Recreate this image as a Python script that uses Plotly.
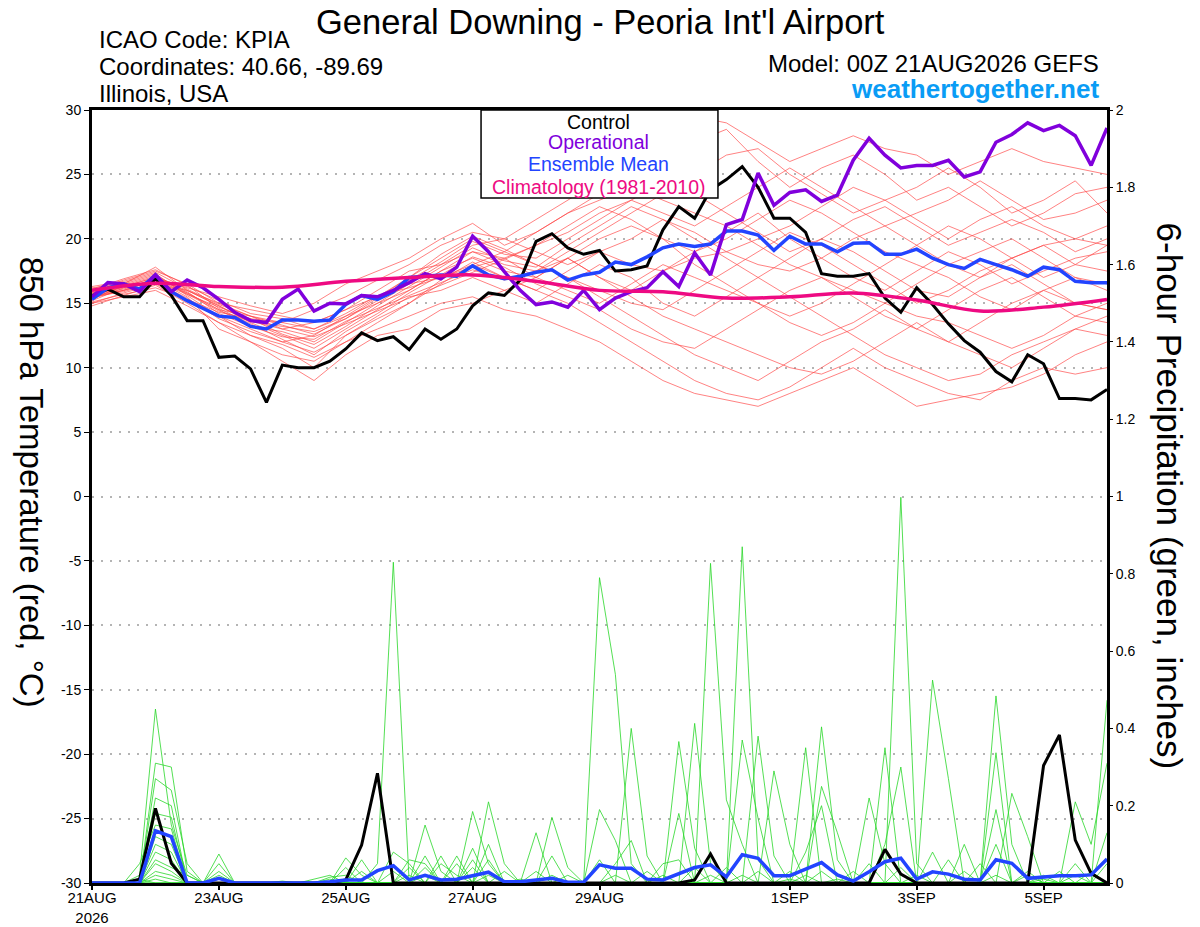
import plotly.graph_objects as go
from datetime import datetime, timedelta

# ---- data ----
base_time = datetime(2026, 8, 21, 0)
hours_6h = list(range(0, 385, 6))      # control / mean / operational / precip
hours_12h = list(range(0, 385, 12))    # temperature members
hours_24h = list(range(0, 385, 24))    # climatology

control_temp = [
    15.6, 16.1, 15.5, 15.5, 16.9, 15.6, 13.65, 13.65,
    10.8, 10.9, 9.9, 7.3, 10.2, 10.0, 10.0, 10.5,
    11.45, 12.7, 12.1, 12.4, 11.4, 13.0, 12.2, 13.0,
    14.8, 15.8, 15.6, 16.8, 19.8, 20.4, 19.3, 18.8,
    19.1, 17.5, 17.6, 17.9, 20.7, 22.5, 21.6, 23.8,
    24.6, 25.6, 24.0, 21.6, 21.6, 20.5, 17.3, 17.1,
    17.1, 17.3, 15.4, 14.3, 16.2, 14.9, 13.4, 12.1,
    11.2, 9.7, 8.9, 11.0, 10.3, 7.6, 7.6, 7.5,
    8.3,
]
mean_temp = [
    15.3, 16.2, 16.5, 16.1, 17.2, 15.9, 15.2, 14.6,
    14.0, 13.9, 13.2, 13.0, 13.7, 13.7, 13.6, 13.7,
    14.9, 15.6, 15.3, 15.9, 17.0, 17.1, 17.2, 17.1,
    17.9, 17.2, 16.9, 17.1, 17.4, 17.6, 16.8, 17.2,
    17.4, 18.2, 18.0, 18.6, 19.3, 19.6, 19.4, 19.6,
    20.6, 20.6, 20.3, 19.1, 20.2, 19.6, 19.6, 19.0,
    19.65, 19.7, 18.8, 18.8, 19.2, 18.5, 18.0, 17.7,
    18.4, 18.0, 17.6, 17.1, 17.8, 17.6, 16.7, 16.6,
    16.6,
]
oper_temp = [
    15.5, 16.6, 16.5, 15.9, 17.2, 15.9, 16.8, 16.2,
    15.3, 14.3, 13.65, 13.5, 15.3, 16.1, 14.4, 15.0,
    14.95, 15.6, 15.5, 16.0, 16.6, 17.3, 16.9, 17.8,
    20.2, 19.0, 17.45, 16.0, 14.9, 15.1, 14.7, 16.0,
    14.5, 15.4, 15.9, 16.2, 17.45, 16.3, 18.9, 17.2,
    21.1, 21.5, 25.1, 22.6, 23.6, 23.8, 22.9, 23.4,
    26.1, 27.8, 26.5, 25.5, 25.7, 25.7, 26.1, 24.8,
    25.2, 27.5, 28.1, 29.0, 28.4, 28.8, 28.0, 25.7,
    28.6,
]
clim_temp = [16.0, 16.55, 16.3, 16.25, 16.7, 17.0, 17.2, 16.7, 16.0,
             15.9, 15.4, 15.5, 15.8, 15.25, 14.4, 14.7, 15.3]

member_temps = [
    [15.8, 16.5, 17.2, 15.8, 14.5, 14.0, 13.5, 14.5, 15.5, 16.8, 18.0,
     19.5, 20.5, 20.0, 21.5, 23.0, 24.5, 26.0, 28.0, 29.5, 29.0, 27.5,
     26.0, 27.0, 28.0, 27.0, 26.5, 25.0, 26.0, 27.0, 26.0, 25.5, 25.0],
    [15.5, 16.0, 17.0, 16.2, 15.5, 14.8, 14.2, 15.0, 16.5, 17.5, 18.5,
     20.0, 21.2, 19.5, 20.5, 22.0, 23.5, 25.0, 26.5, 27.5, 28.5, 26.0,
     24.0, 25.5, 26.5, 25.0, 23.0, 24.0, 22.5, 21.0, 22.0, 23.5, 24.0],
    [15.0, 15.5, 16.0, 14.8, 13.5, 12.0, 11.0, 10.5, 12.0, 13.0, 14.0,
     15.0, 15.5, 14.5, 14.0, 13.0, 12.0, 10.5, 9.0, 8.0, 7.5, 7.0,
     8.0, 9.0, 10.0, 8.5, 7.0, 7.5, 8.0, 8.5, 9.5, 11.0, 12.0],
    [16.0, 16.8, 17.5, 16.5, 15.0, 14.0, 13.0, 13.5, 14.5, 15.5, 16.5,
     17.0, 18.0, 17.0, 16.0, 15.0, 13.5, 12.0, 10.5, 9.0, 8.0, 7.5,
     8.5, 10.0, 11.5, 10.0, 9.0, 8.0, 7.5, 9.0, 10.0, 9.5, 10.0],
    [15.2, 16.2, 16.8, 15.5, 13.0, 12.0, 10.5, 9.0, 11.0, 12.5, 13.0,
     14.5, 15.0, 16.0, 17.0, 18.5, 17.0, 15.5, 14.0, 13.0, 12.0, 11.0,
     10.0, 9.5, 10.5, 12.0, 13.5, 12.0, 11.0, 10.0, 11.5, 13.0, 14.0],
    [16.2, 16.5, 17.8, 16.0, 14.8, 13.5, 12.5, 11.5, 13.0, 14.5, 16.0,
     17.5, 19.0, 18.0, 17.5, 19.0, 20.5, 22.0, 23.5, 25.0, 26.5, 27.0,
     25.0, 23.5, 22.0, 23.0, 21.5, 20.0, 21.5, 22.5, 21.0, 20.0, 21.0],
    [15.0, 15.8, 16.5, 15.2, 14.0, 13.0, 12.0, 12.5, 14.0, 15.5, 17.0,
     18.5, 20.0, 19.0, 18.0, 17.0, 15.5, 14.0, 12.5, 11.0, 10.0, 9.0,
     10.5, 12.0, 13.0, 14.5, 13.0, 12.0, 13.5, 15.0, 16.0, 15.0, 14.5],
    [15.6, 16.0, 16.5, 16.0, 15.0, 14.5, 14.0, 13.5, 14.5, 16.0, 17.5,
     18.0, 19.0, 18.5, 19.5, 20.5, 22.0, 23.0, 22.0, 21.0, 22.5, 24.0,
     25.5, 24.0, 22.5, 21.0, 22.0, 23.0, 24.5, 23.0, 21.5, 22.0, 23.0],
    [15.4, 16.3, 17.0, 15.9, 14.2, 13.2, 12.8, 12.0, 13.5, 15.0, 16.5,
     18.0, 19.5, 20.0, 19.0, 18.0, 19.0, 20.0, 21.5, 20.5, 19.0, 18.0,
     17.5, 18.5, 20.0, 21.0, 19.5, 18.0, 17.0, 18.5, 19.5, 20.0, 19.5],
    [15.9, 16.6, 17.3, 15.6, 14.0, 12.5, 11.5, 10.0, 12.5, 14.0, 15.5,
     16.0, 17.0, 16.0, 15.0, 16.5, 18.0, 17.0, 15.0, 14.0, 15.5, 17.0,
     18.5, 20.0, 19.0, 17.5, 16.0, 15.5, 17.0, 18.0, 16.5, 15.0, 14.5],
    [15.7, 16.1, 16.9, 16.3, 15.2, 14.2, 13.8, 13.0, 14.0, 15.0, 16.0,
     17.5, 18.5, 17.5, 17.0, 18.5, 20.0, 21.0, 20.0, 19.0, 20.5, 22.0,
     20.0, 18.5, 17.0, 16.0, 17.5, 19.0, 18.0, 16.5, 17.5, 18.5, 19.0],
    [15.3, 16.4, 17.1, 15.7, 14.4, 13.6, 13.2, 12.8, 13.8, 15.2, 16.8,
     18.2, 19.8, 18.8, 18.5, 20.0, 21.5, 23.0, 24.5, 23.5, 22.0, 20.5,
     19.0, 20.0, 21.5, 22.5, 21.0, 19.5, 20.5, 21.5, 20.5, 19.0, 20.0],
    [16.1, 16.9, 17.6, 16.4, 14.6, 13.4, 12.2, 11.0, 12.8, 14.2, 15.8,
     17.2, 18.6, 17.8, 16.5, 15.5, 14.5, 13.0, 12.0, 11.5, 13.0, 14.5,
     16.0, 17.0, 15.5, 14.0, 13.0, 14.5, 16.0, 17.0, 15.5, 14.0, 13.5],
    [15.5, 15.9, 16.6, 15.4, 13.8, 12.8, 12.0, 11.2, 12.5, 13.8, 15.0,
     16.5, 18.0, 19.0, 20.5, 22.0, 23.0, 24.0, 23.0, 22.0, 21.0, 19.5,
     18.0, 17.0, 16.0, 15.0, 14.0, 13.5, 12.5, 11.5, 12.5, 14.0, 15.0],
    [14.8, 15.6, 16.4, 15.0, 13.5, 12.5, 11.8, 10.8, 12.0, 13.5, 15.0,
     16.8, 18.2, 17.0, 16.0, 17.5, 19.0, 18.0, 17.5, 19.0, 20.0, 21.5,
     23.0, 22.0, 20.5, 19.0, 18.0, 17.0, 15.5, 14.5, 16.0, 17.0, 16.0],
    [16.3, 16.7, 17.4, 16.1, 14.9, 14.0, 13.3, 12.6, 13.8, 15.4, 17.0,
     18.8, 20.2, 19.2, 18.0, 17.0, 16.0, 15.0, 14.5, 16.0, 17.5, 19.0,
     20.5, 19.5, 18.0, 16.5, 15.0, 16.0, 17.5, 18.5, 19.5, 18.0, 17.5],
    [15.1, 15.7, 16.2, 15.3, 14.3, 13.8, 13.5, 13.0, 14.2, 15.6, 16.2,
     17.0, 17.8, 18.5, 17.0, 16.0, 15.0, 16.5, 18.0, 17.0, 16.0, 15.0,
     13.5, 12.5, 13.5, 15.0, 16.5, 18.0, 19.0, 20.0, 18.5, 17.0, 16.5],
    [15.8, 16.2, 16.7, 15.7, 14.7, 13.8, 12.6, 11.8, 13.2, 14.8, 16.3,
     17.8, 19.3, 18.3, 17.8, 19.5, 21.0, 22.5, 21.5, 20.0, 18.5, 17.0,
     15.5, 14.0, 12.5, 11.0, 10.0, 9.0, 9.5, 11.0, 12.0, 13.0, 12.5],
    [15.4, 16.0, 16.8, 15.8, 14.5, 13.2, 12.4, 12.2, 13.6, 14.6, 15.6,
     16.6, 17.6, 16.8, 17.5, 18.5, 17.0, 16.0, 17.5, 18.5, 19.0, 20.0,
     21.0, 22.5, 24.0, 23.0, 24.0, 25.5, 24.0, 22.0, 23.0, 24.5, 22.0],
    [15.6, 16.3, 17.0, 16.0, 14.8, 13.6, 13.0, 12.4, 13.4, 14.4, 15.4,
     16.4, 17.4, 18.4, 19.5, 21.0, 22.5, 21.5, 20.0, 18.0, 16.5, 15.0,
     14.0, 15.0, 16.5, 18.0, 19.5, 21.0, 20.0, 18.5, 17.0, 18.0, 19.5],
]

control_precip = [
    0, 0, 0, 0.01, 0.193, 0.051, 0, 0,
    0, 0, 0, 0, 0, 0, 0, 0,
    0.008, 0.098, 0.284, 0, 0, 0, 0, 0,
    0, 0, 0, 0, 0, 0, 0, 0,
    0, 0, 0, 0, 0, 0, 0.008, 0.075,
    0, 0, 0, 0, 0, 0, 0, 0,
    0, 0, 0.087, 0.023, 0, 0, 0, 0,
    0, 0, 0, 0, 0.304, 0.383, 0.111, 0.025,
    0,
]
mean_precip = [
    0, 0, 0, 0, 0.135, 0.12, 0, 0,
    0.012, 0, 0, 0, 0, 0, 0, 0.003,
    0.008, 0.008, 0.032, 0.045, 0.008, 0.02, 0.008, 0.01,
    0.02, 0.028, 0.003, 0.003, 0.008, 0.012, 0.002, 0.002,
    0.047, 0.038, 0.038, 0.01, 0.008, 0.025, 0.04, 0.047,
    0.016, 0.073, 0.064, 0.019, 0.019, 0.036, 0.053, 0.021,
    0.005, 0.029, 0.055, 0.064, 0.01, 0.029, 0.023, 0.01,
    0.008, 0.06, 0.051, 0.012, 0.016, 0.019, 0.019, 0.021,
    0.062,
]

member_precip = [
    [0, 0, 0, .02, .45, .15, .02, 0,
     0, 0, 0, 0, 0, 0, 0, 0,
     0, 0, 0, 0, 0, .15, .03, 0,
     0, 0, 0, 0, 0, 0, 0, 0,
     .79, .54, .05, 0, 0, 0, 0, 0,
     0, 0, 0, 0, 0, .08, .2, 0,
     0, 0, 0, 0, 0, 0, 0, 0,
     0, .1, 0, 0, 0, 0, 0, 0,
     .13],
    [0, 0, 0, 0, .31, .3, .03, 0,
     .075, 0, 0, 0, 0, 0, 0, 0,
     0, 0, .05, .83, 0, 0, 0, 0,
     0, .06, 0, 0, 0, 0, 0, 0,
     0, 0, 0, 0, 0, 0, 0, .827,
     .215, .1, 0, 0, 0, 0, 0, 0,
     0, 0, .1, .3, 0, 0, 0, 0,
     0, 0, 0, 0, 0, 0, .05, 0,
     0],
    [0, 0, 0, 0, .27, .24, .05, 0,
     .05, 0, 0, 0, 0, 0, 0, 0,
     0, 0, 0, 0, 0, 0, 0, 0,
     .185, .05, 0, 0, 0, 0, 0, 0,
     0, 0, 0, 0, 0, 0, 0, 0,
     0, .87, .06, 0, 0, 0, 0, 0,
     0, 0, 0, 0, 0, .08, 0, 0,
     0, 0, 0, 0, 0, 0, 0, 0,
     .473],
    [0, 0, 0, 0, .22, .2, 0, 0,
     0, 0, 0, 0, 0, 0, 0, 0,
     .065, .02, 0, 0, 0, 0, 0, 0,
     0, .21, .05, 0, 0, 0, 0, 0,
     0, 0, 0, 0, 0, .366, .09, 0,
     0, 0, 0, 0, 0, 0, 0, 0,
     0, 0, 0, .998, .05, 0, 0, 0,
     0, 0, 0, .03, 0, 0, 0, 0,
     0],
    [0, 0, 0, 0, .18, .17, 0, 0,
     .03, 0, 0, 0, 0, 0, 0, 0,
     0, 0, 0, 0, 0, .07, 0, 0,
     0, 0, 0, 0, 0, .17, .04, 0,
     0, 0, .4, .07, 0, 0, 0, 0,
     0, 0, 0, 0, 0, 0, .404, .06,
     0, 0, 0, 0, 0, 0, 0, 0,
     0, .484, .1, 0, 0, 0, 0, 0,
     0],
    [0, 0, 0, .05, .15, .14, 0, 0,
     0, 0, 0, 0, 0, 0, 0, 0,
     0, .06, 0, 0, 0, 0, 0, 0,
     .09, 0, 0, 0, .13, 0, 0, 0,
     0, 0, 0, 0, 0, 0, .413, .05,
     0, 0, 0, 0, 0, 0, 0, 0,
     0, .22, .05, 0, 0, 0, 0, 0,
     0, 0, 0, 0, 0, 0, .21, .1,
     .31],
    [0, 0, 0, 0, .12, .1, 0, 0,
     0, 0, 0, 0, 0, 0, .01, .02,
     0, 0, 0, 0, .06, .05, 0, 0,
     0, 0, 0, 0, 0, 0, 0, 0,
     .19, .11, 0, 0, 0, 0, 0, 0,
     0, 0, .38, .07, 0, 0, 0, 0,
     0, 0, 0, 0, 0, .525, .27, 0,
     0, .19, 0, 0, 0, 0, 0, 0,
     0],
    [0, 0, 0, 0, .1, .08, 0, 0,
     0, 0, 0, 0, 0, 0, 0, 0,
     .04, 0, 0, .08, .05, 0, 0, .07,
     0, 0, 0, 0, 0, 0, 0, 0,
     0, .05, .11, 0, 0, 0, 0, 0,
     0, .37, .167, 0, 0, .35, 0, 0,
     0, 0, 0, 0, 0, 0, 0, .1,
     0, 0, .232, .12, 0, 0, 0, 0,
     0],
    [0, 0, 0, 0, .08, .06, 0, 0,
     .02, 0, 0, 0, 0, 0, 0, 0,
     0, 0, 0, 0, 0, 0, .07, 0,
     .06, 0, 0, 0, 0, .07, 0, 0,
     0, 0, 0, 0, 0, .18, 0, 0,
     0, 0, 0, .29, .1, 0, 0, 0,
     0, 0, .35, 0, 0, 0, 0, 0,
     0, .337, 0, 0, 0, 0, 0, 0,
     .05],
    [0, 0, 0, 0, .06, .04, .02, 0,
     0, 0, 0, 0, 0, 0, 0, 0,
     0, 0, 0, 0, .04, 0, 0, 0,
     0, .1, 0, 0, .03, 0, 0, 0,
     0, 0, 0, 0, .05, .06, 0, 0,
     0, 0, 0, 0, 0, 0, .25, .13,
     0, 0, 0, 0, 0, 0, .06, 0,
     0, 0, 0, 0, 0, .03, 0, 0,
     0],
    [0, 0, 0, 0, .05, .03, 0, 0,
     0, 0, 0, 0, 0, 0, 0, .01,
     0, 0, 0, 0, 0, .04, 0, .05,
     0, 0, 0, 0, 0, 0, .02, 0,
     .06, 0, 0, 0, 0, 0, .04, 0,
     0, 0, 0, 0, .03, 0, 0, 0,
     0, .05, 0, 0, 0, 0, 0, 0,
     .05, 0, 0, 0, .02, 0, 0, 0,
     0],
    [0, 0, 0, 0, .03, .02, 0, 0,
     0, 0, 0, 0, 0, 0, 0, 0,
     0, .03, 0, 0, 0, 0, .05, .02,
     0, 0, .03, 0, 0, 0, 0, 0,
     0, 0, 0, .03, 0, 0, 0, 0,
     .04, 0, 0, 0, 0, 0, 0, 0,
     .03, 0, 0, 0, .02, 0, 0, 0,
     0, 0, 0, 0, 0, 0, 0, .03,
     0],
    [0, 0, 0, 0, .02, .01, 0, 0,
     0, 0, 0, 0, 0, 0, 0, 0,
     0, 0, 0, .03, 0, 0, 0, 0,
     .04, 0, 0, 0, 0, .02, 0, 0,
     0, 0, 0, 0, 0, 0, 0, .02,
     0, .02, 0, 0, 0, .02, 0, 0,
     0, 0, 0, 0, 0, 0, 0, .03,
     0, 0, 0, 0, 0, 0, .02, 0,
     0],
    [0, 0, 0, 0, .01, 0, 0, 0,
     0, 0, 0, 0, 0, 0, 0, 0,
     0, 0, 0, 0, .02, 0, 0, 0,
     0, 0, 0, .01, 0, 0, 0, 0,
     0, .02, 0, 0, 0, 0, 0, 0,
     0, 0, .03, 0, 0, 0, 0, 0,
     0, 0, 0, .04, 0, 0, 0, 0,
     0, 0, 0, .02, 0, 0, 0, 0,
     0],
    [0, 0, 0, .01, 0, 0, 0, 0,
     0, 0, 0, 0, 0, 0, 0, .015,
     .02, 0, 0, 0, 0, .02, 0, 0,
     0, 0, 0, 0, 0, 0, 0, 0,
     0, 0, 0, 0, .02, 0, 0, 0,
     0, 0, 0, 0, 0, 0, .03, 0,
     0, 0, 0, 0, 0, 0, 0, 0,
     0, 0, 0, 0, .01, 0, 0, 0,
     0],
    [0, 0, 0, 0, 0, 0, 0, 0,
     0, 0, 0, 0, .005, 0, 0, 0,
     0, 0, 0, 0, 0, 0, 0, 0,
     0, .02, 0, 0, 0, 0, 0, 0,
     0, 0, 0, 0, 0, 0, 0, 0,
     0, 0, 0, 0, .01, 0, 0, 0,
     0, 0, 0, 0, 0, 0, 0, 0,
     0, .02, 0, 0, 0, 0, 0, 0,
     0],
    [0, 0, 0, 0, 0, 0, 0, 0,
     0, 0, 0, 0, 0, 0, 0, 0,
     0, 0, 0, 0, 0, 0, 0, 0,
     0, 0, 0, 0, 0, 0, 0, 0,
     0, 0, 0, 0, 0, 0, 0, 0,
     0, 0, 0, 0, 0, 0, 0, .01,
     0, 0, 0, 0, 0, 0, 0, 0,
     0, 0, 0, 0, 0, 0, 0, 0,
     0],
]

date_ticks = ["2026-08-21", "2026-08-23", "2026-08-25", "2026-08-27",
              "2026-08-29", "2026-09-01", "2026-09-03", "2026-09-05"]
date_labels = ["21AUG<br>2026", "23AUG", "25AUG", "27AUG",
               "29AUG", "1SEP", "3SEP", "5SEP"]
temp_ticks = [30, 25, 20, 15, 10, 5, 0, -5, -10, -15, -20, -25, -30]
precip_ticks = [0, 0.2, 0.4, 0.6, 0.8, 1, 1.2, 1.4, 1.6, 1.8, 2]

FONT = "Liberation Sans, Arial, sans-serif"


def to_times(hours):
    return [base_time + timedelta(hours=h) for h in hours]


t6 = to_times(hours_6h)
t12 = to_times(hours_12h)
t24 = to_times(hours_24h)

fig = go.Figure()

for m in member_temps:
    fig.add_trace(go.Scatter(x=t12, y=m, mode="lines",
                             line=dict(color="rgba(255,70,70,0.85)", width=0.8),
                             hoverinfo="skip"))

for p in member_precip:
    fig.add_trace(go.Scatter(x=t6, y=p, mode="lines", yaxis="y2",
                             line=dict(color="rgb(40,215,40)", width=0.8),
                             hoverinfo="skip"))

fig.add_trace(go.Scatter(x=t6, y=control_precip, mode="lines", yaxis="y2",
                         line=dict(color="black", width=3)))
fig.add_trace(go.Scatter(x=t6, y=mean_precip, mode="lines", yaxis="y2",
                         line=dict(color="#2244ff", width=3.5)))
fig.add_trace(go.Scatter(x=t6, y=control_temp, mode="lines",
                         line=dict(color="black", width=3)))
fig.add_trace(go.Scatter(x=t6, y=mean_temp, mode="lines",
                         line=dict(color="#2244ff", width=3.5)))
fig.add_trace(go.Scatter(x=t6, y=oper_temp, mode="lines",
                         line=dict(color="#8000dc", width=3.5)))
fig.add_trace(go.Scatter(x=t24, y=clim_temp, mode="lines", line_shape="spline",
                         line=dict(color="#ee0a82", width=3.5)))

annotations = [
    dict(text="General Downing - Peoria Int'l Airport", x=0.5005, y=1.1138,
         xanchor="center", font=dict(size=34.5)),
    dict(text="ICAO Code: KPIA", x=0.006, y=1.0906, xanchor="left", font=dict(size=24)),
    dict(text="Coordinates: 40.66, -89.69", x=0.006, y=1.0569, xanchor="left", font=dict(size=24)),
    dict(text="Illinois, USA", x=0.006, y=1.0207, xanchor="left", font=dict(size=24)),
    dict(text="Model: 00Z 21AUG2026 GEFS", x=0.993, y=1.0608, xanchor="right", font=dict(size=24)),
    dict(text="<b>weathertogether.net</b>", x=0.993, y=1.0272, xanchor="right",
         font=dict(size=26, color="#0a9cf5")),
    dict(text="Control", x=0.4995, y=0.9845, font=dict(size=19.5, color="black")),
    dict(text="Operational", x=0.4995, y=0.9580, font=dict(size=19.5, color="#8000dc")),
    dict(text="Ensemble Mean", x=0.4995, y=0.9295, font=dict(size=19.5, color="#2244ff")),
    dict(text="Climatology (1981-2010)", x=0.4995, y=0.9010, font=dict(size=19.5, color="#ee0a82")),
    dict(text="850 hPa Temperature (red, °C)", x=-0.060, y=0.519, textangle=90,
         font=dict(size=33)),
    dict(text="6-hour Precipitation (green, inches)", x=1.062, y=0.500, textangle=90,
         font=dict(size=35)),
]
for a in annotations:
    a.setdefault("xanchor", "center")
    a.update(xref="paper", yref="paper", yanchor="middle", showarrow=False, borderpad=0)
    a["font"] = dict(family=FONT, color=a["font"].get("color", "black"), size=a["font"]["size"])

fig.update_layout(
    width=1200, height=927,
    margin=dict(l=92, r=93, t=110, b=44),
    paper_bgcolor="white", plot_bgcolor="white",
    showlegend=False,
    font=dict(family=FONT, color="black"),
    annotations=annotations,
    shapes=[dict(type="rect", xref="paper", yref="paper",
                 x0=0.3833, x1=0.6167, y0=0.8862, y1=1.0,
                 fillcolor="white", line=dict(color="black", width=1.5),
                 layer="above")],
    xaxis=dict(
        range=[base_time, base_time + timedelta(hours=384)],
        tickvals=date_ticks, ticktext=date_labels,
        ticks="outside", ticklen=4, tickwidth=2, tickcolor="black",
        ticklabelstandoff=-5,
        showline=True, linewidth=3, linecolor="black", mirror=True,
        showgrid=False, zeroline=False, automargin=False,
        tickfont=dict(size=15),
    ),
    yaxis=dict(
        range=[-30, 30], tickvals=temp_ticks, ticktext=[str(v) for v in temp_ticks],
        ticks="outside", ticklen=5, tickwidth=1, tickcolor="black",
        showline=True, linewidth=3, linecolor="black", mirror=True,
        showgrid=True, gridcolor="#b4b4b4", griddash="2px,7px", gridwidth=2,
        zeroline=False, automargin=False, tickfont=dict(size=14),
    ),
    yaxis2=dict(
        range=[0, 2], overlaying="y", side="right",
        tickvals=precip_ticks, ticktext=[f"{v:g}" for v in precip_ticks],
        ticks="outside", ticklen=5, tickwidth=1, tickcolor="black",
        showline=False, showgrid=False, zeroline=False, automargin=False,
        tickfont=dict(size=14),
    ),
)

# drop the browser's default 8px page margin so the figure fills the window exactly
fig.write_html("out.html", config={"displayModeBar": False},
               post_script="document.body.style.margin = '0px';")
